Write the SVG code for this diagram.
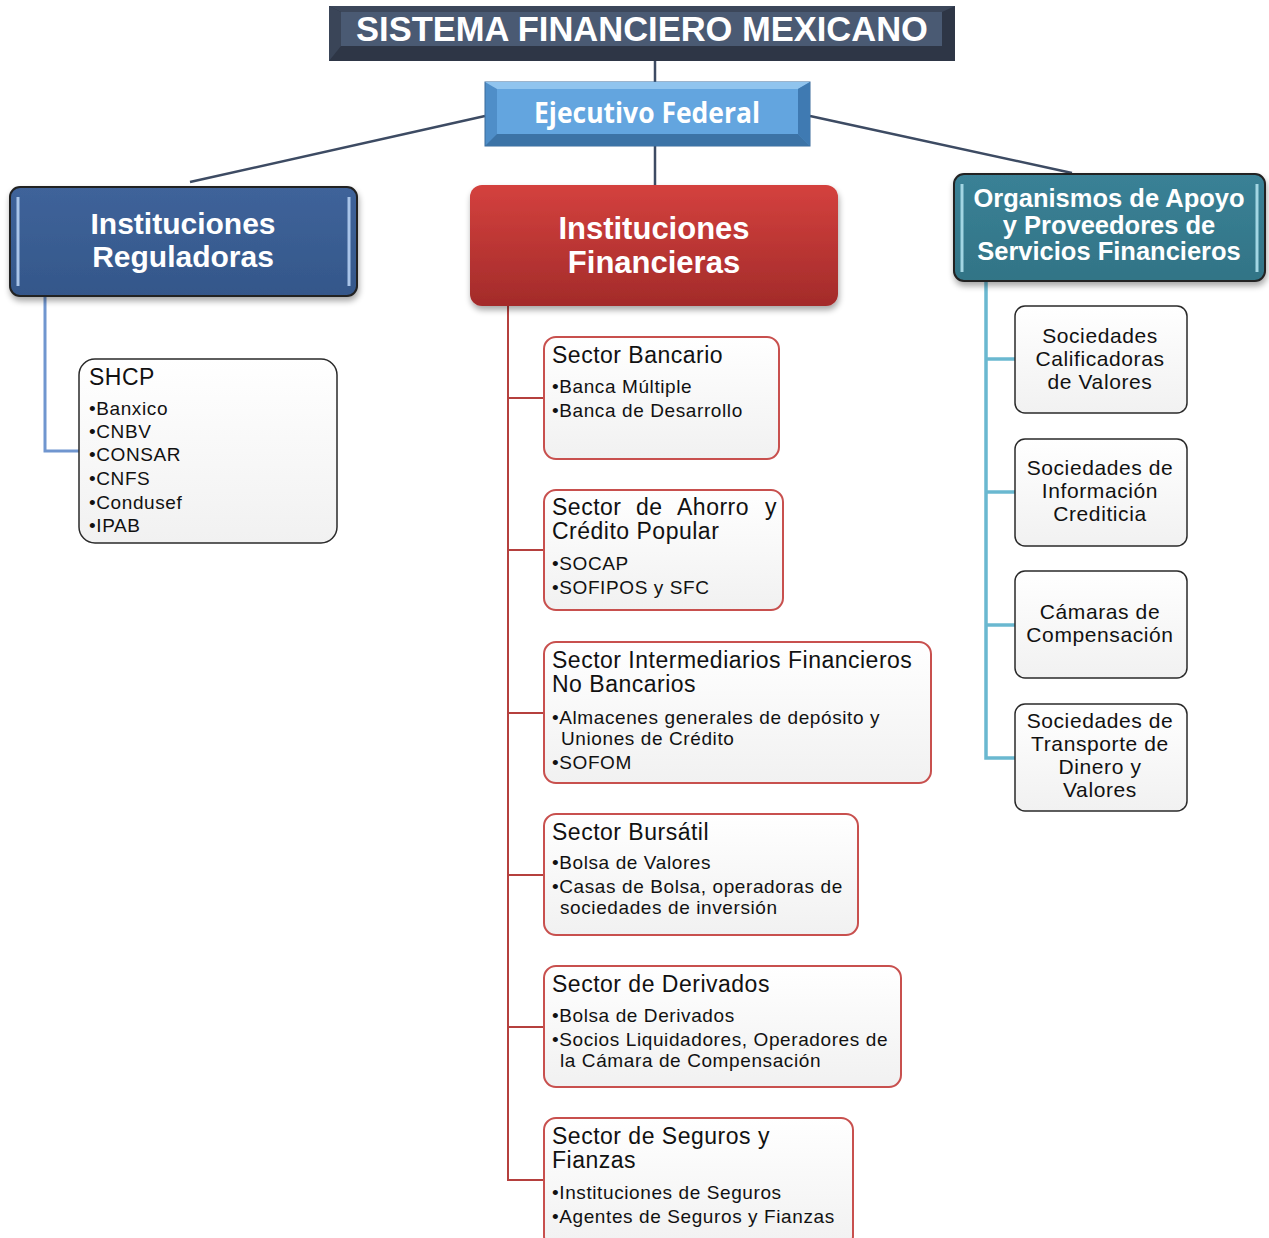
<svg xmlns="http://www.w3.org/2000/svg" width="1269" height="1238" viewBox="0 0 1269 1238">
<defs>
<linearGradient id="gRed" x1="0" y1="0" x2="0" y2="1"><stop offset="0" stop-color="#d4413e"/><stop offset="1" stop-color="#a32b2a"/></linearGradient>
<linearGradient id="gBox" x1="0" y1="0" x2="0" y2="1"><stop offset="0" stop-color="#ffffff"/><stop offset="1" stop-color="#f1f1f1"/></linearGradient>
<linearGradient id="gBlue" x1="0" y1="0" x2="0" y2="1"><stop offset="0" stop-color="#3f639a"/><stop offset="1" stop-color="#34578a"/></linearGradient>
<linearGradient id="gTeal" x1="0" y1="0" x2="0" y2="1"><stop offset="0" stop-color="#3a8196"/><stop offset="1" stop-color="#327486"/></linearGradient>
<filter id="sh" x="-10%" y="-10%" width="120%" height="130%"><feGaussianBlur in="SourceAlpha" stdDeviation="3"/><feOffset dx="1" dy="4"/><feComponentTransfer><feFuncA type="linear" slope="0.35"/></feComponentTransfer><feMerge><feMergeNode/><feMergeNode in="SourceGraphic"/></feMerge></filter>
</defs>
<style>
.hd{font-family:"Liberation Sans",Arial,sans-serif;font-weight:bold;fill:#fff;text-anchor:middle}
.t{font-family:"Liberation Sans",Arial,sans-serif;font-size:23px;fill:#111;letter-spacing:0.5px}
.i{font-family:"Liberation Sans",Arial,sans-serif;font-size:19px;fill:#111;letter-spacing:0.6px}
.r{font-family:"Liberation Sans",Arial,sans-serif;font-size:21px;fill:#111;letter-spacing:0.6px;text-anchor:middle}
.red{fill:url(#gBox);stroke:#c8504e;stroke-width:2}
.wht{fill:url(#gBox);stroke:#2a2a2a;stroke-width:1.5}
</style>
<rect width="1269" height="1238" fill="#fff"/>

<g id="connectors" fill="none">
<line x1="655" y1="61" x2="655" y2="82" stroke="#3d4b63" stroke-width="2.5"/>
<line x1="655" y1="146" x2="655" y2="185" stroke="#3d4b63" stroke-width="2.5"/>
<line x1="485" y1="116" x2="190" y2="182" stroke="#3d4b63" stroke-width="2.5"/>
<line x1="810" y1="116" x2="1072" y2="173" stroke="#3d4b63" stroke-width="2.5"/>
<polyline points="45,296 45,451 79,451" stroke="#7096cf" stroke-width="3"/>
<g stroke="#b5403e" stroke-width="2">
<polyline points="508,306 508,1180 544,1180"/>
<line x1="508" y1="398" x2="544" y2="398"/>
<line x1="508" y1="550" x2="544" y2="550"/>
<line x1="508" y1="713" x2="544" y2="713"/>
<line x1="508" y1="875" x2="544" y2="875"/>
<line x1="508" y1="1027" x2="544" y2="1027"/>
</g>
<g stroke="#6ab8d0" stroke-width="3.5">
<polyline points="986,281 986,758 1015,758"/>
<line x1="986" y1="359" x2="1015" y2="359"/>
<line x1="986" y1="492" x2="1015" y2="492"/>
<line x1="986" y1="625" x2="1015" y2="625"/>
</g>
</g>

<g id="title">
<rect x="329" y="6" width="626" height="55" fill="#2e3646"/>
<polygon points="329,6 955,6 942,12 341,12" fill="#3c475a"/>
<polygon points="329,6 341,12 341,46 329,61" fill="#3a4558"/>
<rect x="341" y="12" width="601" height="34" fill="#4a5a73"/>
<text class="hd" x="642" y="41" font-size="34.5">SISTEMA FINANCIERO MEXICANO</text>
</g>

<g id="ejecutivo">
<rect x="485" y="82" width="325" height="64" fill="#4f8ec8" stroke="#3a6a9a" stroke-width="1"/>
<polygon points="485,82 810,82 798,89 497,89" fill="#90c4ee"/>
<polygon points="485,146 810,146 798,134 497,134" fill="#3c73a6"/>
<polygon points="810,82 810,146 798,134 798,89" fill="#3f7ab2"/>
<rect x="497" y="89" width="301" height="45" fill="#63a5df"/>
<text class="hd" x="647" y="123" font-size="28" textLength="226" lengthAdjust="spacingAndGlyphs" style="font-family:'Open Sans',sans-serif">Ejecutivo Federal</text>
</g>

<g id="reguladoras">
<rect x="10" y="187" width="347" height="109" rx="10" fill="url(#gBlue)" stroke="#222" stroke-width="2" filter="url(#sh)"/>
<line x1="18" y1="197" x2="18" y2="286" stroke="#a9c4e8" stroke-width="3"/>
<line x1="349" y1="197" x2="349" y2="286" stroke="#a9c4e8" stroke-width="3"/>
<text class="hd" x="183" y="234" font-size="30">Instituciones</text>
<text class="hd" x="183" y="267" font-size="30">Reguladoras</text>
</g>

<g id="financieras">
<rect x="470" y="185" width="368" height="121" rx="12" fill="url(#gRed)" filter="url(#sh)"/>
<text class="hd" x="654" y="239" font-size="31">Instituciones</text>
<text class="hd" x="654" y="273" font-size="31">Financieras</text>
</g>

<g id="organismos">
<rect x="954" y="174" width="311" height="107" rx="10" fill="url(#gTeal)" stroke="#222" stroke-width="2" filter="url(#sh)"/>
<line x1="962" y1="184" x2="962" y2="272" stroke="#a3d6e3" stroke-width="3"/>
<line x1="1257" y1="184" x2="1257" y2="272" stroke="#a3d6e3" stroke-width="3"/>
<text class="hd" x="1109" y="207" font-size="25.5">Organismos de Apoyo</text>
<text class="hd" x="1109" y="234" font-size="25.5">y Proveedores de</text>
<text class="hd" x="1109" y="260" font-size="25.5">Servicios Financieros</text>
</g>

<g id="shcp">
<rect x="79" y="359" width="258" height="184" rx="16" class="wht"/>
<text class="t" x="89" y="385">SHCP</text>
<text class="i" x="89" y="415">•Banxico</text>
<text class="i" x="89" y="438">•CNBV</text>
<text class="i" x="89" y="461">•CONSAR</text>
<text class="i" x="89" y="485">•CNFS</text>
<text class="i" x="89" y="509">•Condusef</text>
<text class="i" x="89" y="532">•IPAB</text>
</g>

<g id="sector-bancario">
<rect x="544" y="337" width="235" height="122" rx="12" class="red"/>
<text class="t" x="552" y="363">Sector Bancario</text>
<text class="i" x="552" y="393">•Banca Múltiple</text>
<text class="i" x="552" y="417">•Banca de Desarrollo</text>
</g>

<g id="sector-ahorro">
<rect x="544" y="490" width="239" height="120" rx="12" class="red"/>
<text class="t" y="515"><tspan x="552">Sector</tspan><tspan x="636">de</tspan><tspan x="677">Ahorro</tspan><tspan x="765">y</tspan></text>
<text class="t" x="552" y="539">Crédito Popular</text>
<text class="i" x="552" y="570">•SOCAP</text>
<text class="i" x="552" y="594">•SOFIPOS y SFC</text>
</g>

<g id="sector-intermediarios">
<rect x="544" y="642" width="387" height="141" rx="12" class="red"/>
<text class="t" x="552" y="668">Sector Intermediarios Financieros</text>
<text class="t" x="552" y="692">No Bancarios</text>
<text class="i" x="552" y="724">•Almacenes generales de depósito y</text>
<text class="i" x="561" y="745">Uniones de Crédito</text>
<text class="i" x="552" y="769">•SOFOM</text>
</g>

<g id="sector-bursatil">
<rect x="544" y="814" width="314" height="121" rx="12" class="red"/>
<text class="t" x="552" y="840">Sector Bursátil</text>
<text class="i" x="552" y="869">•Bolsa de Valores</text>
<text class="i" x="552" y="893">•Casas de Bolsa, operadoras de</text>
<text class="i" x="560" y="914">sociedades de inversión</text>
</g>

<g id="sector-derivados">
<rect x="544" y="966" width="357" height="121" rx="12" class="red"/>
<text class="t" x="552" y="992">Sector de Derivados</text>
<text class="i" x="552" y="1022">•Bolsa de Derivados</text>
<text class="i" x="552" y="1046">•Socios Liquidadores, Operadores de</text>
<text class="i" x="560" y="1067">la Cámara de Compensación</text>
</g>

<g id="sector-seguros">
<rect x="544" y="1118" width="309" height="130" rx="12" class="red"/>
<text class="t" x="552" y="1144">Sector de Seguros y</text>
<text class="t" x="552" y="1168">Fianzas</text>
<text class="i" x="552" y="1199">•Instituciones de Seguros</text>
<text class="i" x="552" y="1223">•Agentes de Seguros y Fianzas</text>
</g>

<g id="calificadoras">
<rect x="1015" y="306" width="172" height="107" rx="10" class="wht"/>
<text class="r" x="1100" y="343">Sociedades</text>
<text class="r" x="1100" y="366">Calificadoras</text>
<text class="r" x="1100" y="389">de Valores</text>
</g>

<g id="informacion">
<rect x="1015" y="439" width="172" height="107" rx="10" class="wht"/>
<text class="r" x="1100" y="475">Sociedades de</text>
<text class="r" x="1100" y="498">Información</text>
<text class="r" x="1100" y="521">Crediticia</text>
</g>

<g id="camaras">
<rect x="1015" y="571" width="172" height="107" rx="10" class="wht"/>
<text class="r" x="1100" y="619">Cámaras de</text>
<text class="r" x="1100" y="642">Compensación</text>
</g>

<g id="transporte">
<rect x="1015" y="704" width="172" height="107" rx="10" class="wht"/>
<text class="r" x="1100" y="728">Sociedades de</text>
<text class="r" x="1100" y="751">Transporte de</text>
<text class="r" x="1100" y="774">Dinero y</text>
<text class="r" x="1100" y="797">Valores</text>
</g>
</svg>
